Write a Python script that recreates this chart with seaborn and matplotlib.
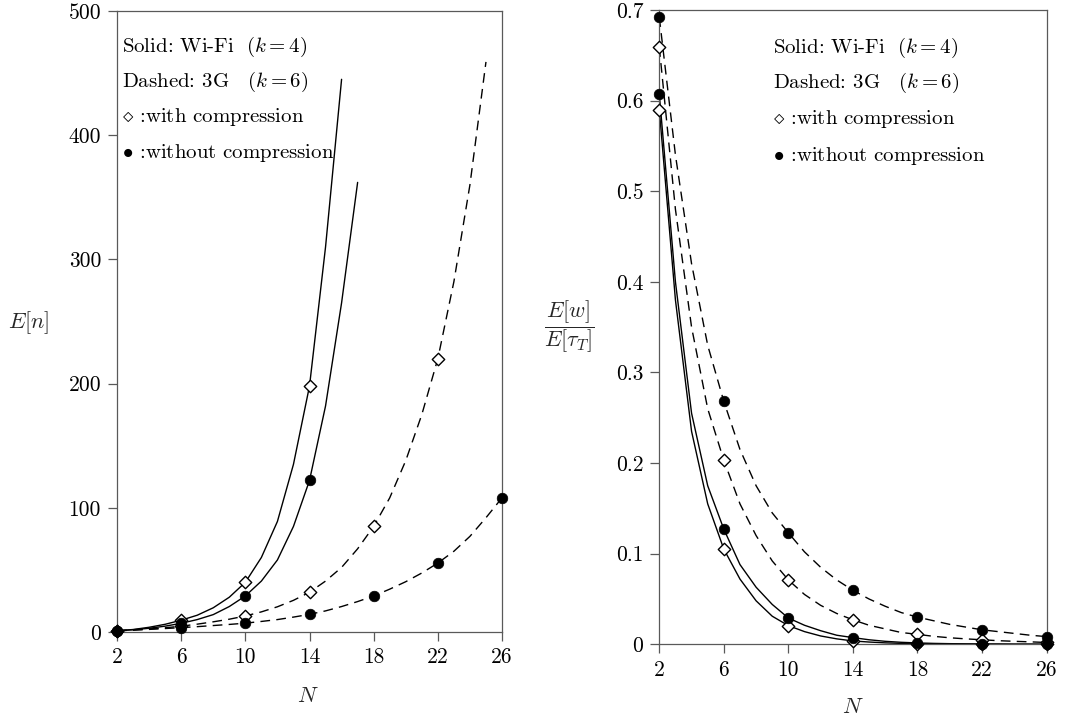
import matplotlib
matplotlib.use("Agg")
import matplotlib.pyplot as plt
import seaborn as sns
import pandas as pd

# ---------------- data ----------------
marker_N = [2, 6, 10, 14, 18, 22, 26]

# Left panel: E[n]
En_N_wifi_with = list(range(2, 17))
En_wifi_with = [1, 2, 3.8, 6.2, 9.5, 13.5, 19.5, 28, 40, 60, 89, 135, 198, 310, 445]
En_N_wifi_without = list(range(2, 18))
En_wifi_without = [1, 1.8, 3, 4.7, 7, 10, 14, 20.5, 29, 41, 58, 85, 122, 182, 265, 362]
En_N_3g_with = list(range(2, 26))
En_3g_with = [1, 1.6, 2.4, 3.4, 4.7, 6.3, 8.2, 10.3, 12.9, 16.2, 20.3, 25.5, 32, 41, 52,
              67, 85, 108, 138, 175, 220, 282, 360, 459]
En_N_3g_without = list(range(2, 27))
En_3g_without = [1, 1.5, 2.1, 2.8, 3.5, 4.3, 5.2, 6.1, 7.1, 8.5, 10, 12, 14.2, 17, 20.5,
                 24.5, 29, 34.5, 40.5, 47.5, 55.5, 65, 77, 92, 108]

# Right panel: E[w]/E[tau_T]
Ew_N = list(range(2, 27))
Ew_wifi_with = [0.590, 0.38, 0.235, 0.155, 0.105, 0.072, 0.048, 0.031, 0.0206, 0.014,
                0.0092, 0.006, 0.0037, 0.0025, 0.0016, 0.001, 0.0007, 0.0005, 0.0003,
                0.0002, 0.0001, 0.0001, 0.0, 0.0, 0.0]
Ew_wifi_without = [0.607, 0.40, 0.255, 0.175, 0.127, 0.088, 0.063, 0.044, 0.029, 0.021,
                   0.015, 0.010, 0.0074, 0.005, 0.0033, 0.0022, 0.0015, 0.001, 0.0007,
                   0.0005, 0.0004, 0.0003, 0.0002, 0.0002, 0.0001]
Ew_3g_with = [0.659, 0.48, 0.35, 0.26, 0.203, 0.155, 0.12, 0.092, 0.071, 0.055, 0.043,
              0.034, 0.027, 0.021, 0.017, 0.013, 0.011, 0.0088, 0.0072, 0.006, 0.005,
              0.004, 0.0033, 0.0027, 0.002]
Ew_3g_without = [0.692, 0.54, 0.42, 0.33, 0.268, 0.215, 0.175, 0.145, 0.123, 0.102,
                 0.085, 0.071, 0.0596, 0.05, 0.042, 0.035, 0.030, 0.026, 0.022, 0.019,
                 0.016, 0.014, 0.012, 0.010, 0.0085]

left_yticks = [0, 100, 200, 300, 400, 500]
right_yticks = [0, 0.1, 0.2, 0.3, 0.4, 0.5, 0.6, 0.7]
xticks = [2, 6, 10, 14, 18, 22, 26]

legend_lines = ["Solid: Wi-Fi $\\ (k=4)$",
                "Dashed: 3G $\\ \\ (k=6)$",
                "$\\diamond$ :with compression",
                "$\\bullet$ :without compression"]


def frame(N, vals, tech, comp):
    return pd.DataFrame({"N": N, "value": vals, "tech": tech, "comp": comp})


left_df = pd.concat([
    frame(En_N_wifi_with, En_wifi_with, "Wi-Fi", "with"),
    frame(En_N_wifi_without, En_wifi_without, "Wi-Fi", "without"),
    frame(En_N_3g_with, En_3g_with, "3G", "with"),
    frame(En_N_3g_without, En_3g_without, "3G", "without"),
])
right_df = pd.concat([
    frame(Ew_N, Ew_wifi_with, "Wi-Fi", "with"),
    frame(Ew_N, Ew_wifi_without, "Wi-Fi", "without"),
    frame(Ew_N, Ew_3g_with, "3G", "with"),
    frame(Ew_N, Ew_3g_without, "3G", "without"),
])

# ---------------- style ----------------
sns.set_style("ticks")
plt.rcParams["font.family"] = ["cmr10", "DejaVu Serif"]
plt.rcParams["mathtext.fontset"] = "cm"
plt.rcParams["axes.formatter.use_mathtext"] = True
plt.rcParams["axes.unicode_minus"] = False

spine_col = "0.35"
line_styles = {"Wi-Fi": "-", "3G": (0, (7, 4.5))}

fig = plt.figure(figsize=(10.70, 7.17), dpi=100)
axL = fig.add_axes([117 / 1070, 1 - 632 / 717, 385 / 1070, 621 / 717])
axR = fig.add_axes([659.3 / 1070, 1 - 644.3 / 717, 387.2 / 1070, 634.3 / 717])


def draw(ax, df):
    for (tech, comp), sub in df.groupby(["tech", "comp"]):
        sns.lineplot(data=sub, x="N", y="value", ax=ax, color="black", lw=1.0,
                     linestyle=line_styles[tech], estimator=None, legend=False,
                     zorder=2)
    pts = df[df["N"].isin(marker_N)]
    w = pts[pts["comp"] == "with"]
    wo = pts[pts["comp"] == "without"]
    sns.scatterplot(data=w, x="N", y="value", ax=ax, marker="D", s=40,
                    facecolor="white", edgecolor="black", linewidth=1.0,
                    legend=False, zorder=3, clip_on=False)
    sns.scatterplot(data=wo, x="N", y="value", ax=ax, marker="o", s=58,
                    color="black", edgecolor="black", linewidth=0.5,
                    legend=False, zorder=4, clip_on=False)


draw(axL, left_df)
draw(axR, right_df)

for ax, yt, ylim in [(axL, left_yticks, (0, 500)), (axR, right_yticks, (0, 0.7))]:
    ax.set_xlim(2, 26)
    ax.set_ylim(*ylim)
    ax.set_xticks(xticks)
    ax.set_yticks(yt)
    ax.set_yticklabels([f"{v:g}" for v in yt])
    ax.set_xticklabels([str(v) for v in xticks])
    for s in ax.spines.values():
        s.set_visible(True)
        s.set_color(spine_col)
        s.set_linewidth(0.9)
    ax.tick_params(axis="both", direction="out", length=6.5, width=0.9,
                   color=spine_col, labelsize=15.5, pad=5, labelcolor="black")
    ax.set_xlabel("$N$", fontsize=16)

axL.set_ylabel("$E[n]$", fontsize=16, rotation=0, ha="center", va="center")
axL.yaxis.set_label_coords(-0.229, 0.498)
axL.xaxis.set_label_coords(0.495, -0.088)

axR.set_ylabel("$\\dfrac{E[w]}{E[\\tau_T]}$", fontsize=16, rotation=0,
               ha="center", va="center")
axR.yaxis.set_label_coords(-0.231, 0.50)
axR.xaxis.set_label_coords(0.501, -0.084)

left_pos = (0.013, [0.934, 0.878, 0.821, 0.763])
right_pos = (0.293, [0.933, 0.877, 0.820, 0.762])
for ax, (x0, ys) in [(axL, left_pos), (axR, right_pos)]:
    for txt, y in zip(legend_lines, ys):
        ax.text(x0, y, txt, transform=ax.transAxes, fontsize=15, va="baseline",
                ha="left", color="black")

fig.savefig("out.png", dpi=100)
